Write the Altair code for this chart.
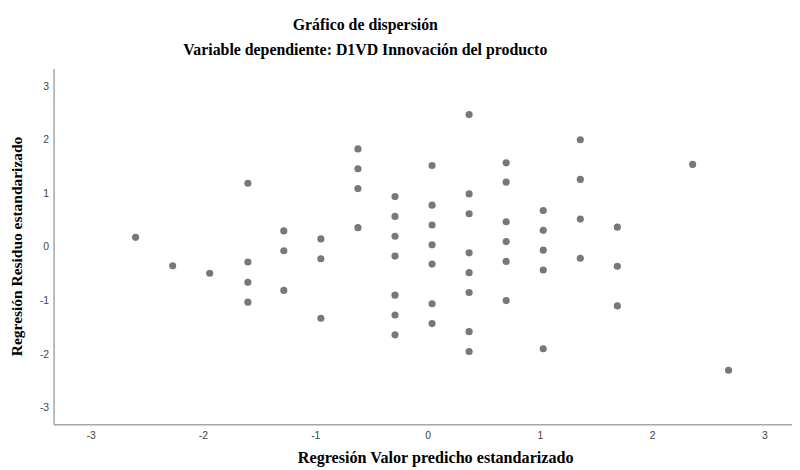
import altair as alt
import pandas as pd

# Regresión Valor predicho estandarizado
predicho = [
    -2.60,
    -2.27,
    -1.94,
    -1.60, -1.60, -1.60, -1.60,
    -1.28, -1.28, -1.28,
    -0.95, -0.95, -0.95,
    -0.62, -0.62, -0.62, -0.62,
    -0.29, -0.29, -0.29, -0.29, -0.29, -0.29, -0.29,
    0.04, 0.04, 0.04, 0.04, 0.04, 0.04, 0.04,
    0.37, 0.37, 0.37, 0.37, 0.37, 0.37, 0.37, 0.37,
    0.70, 0.70, 0.70, 0.70, 0.70, 0.70,
    1.03, 1.03, 1.03, 1.03, 1.03,
    1.36, 1.36, 1.36, 1.36,
    1.69, 1.69, 1.69,
    2.36,
    2.68,
]
# Regresión Residuo estandarizado
residuo = [
    0.18,
    -0.35,
    -0.49,
    1.19, -0.28, -0.66, -1.03,
    0.30, -0.07, -0.81,
    0.15, -0.22, -1.33,
    1.83, 1.46, 1.09, 0.36,
    0.94, 0.57, 0.20, -0.17, -0.90, -1.27, -1.64,
    1.52, 0.78, 0.41, 0.04, -0.32, -1.06, -1.43,
    2.47, 0.99, 0.62, -0.11, -0.48, -0.85, -1.58, -1.95,
    1.57, 1.21, 0.47, 0.10, -0.27, -1.00,
    0.68, 0.31, -0.06, -0.43, -1.90,
    2.00, 1.26, 0.52, -0.21,
    0.37, -0.36, -1.10,
    1.54,
    -2.30,
]
ticks = [-3, -2, -1, 0, 1, 2, 3]

df = pd.DataFrame({"pred": predicho, "res": residuo})

label_expr = "datum.value < 0 ? '-' + abs(datum.value) : '' + datum.value"

chart = alt.Chart(df).mark_circle(size=52, color="#787878", opacity=1).encode(
    x=alt.X(
        "pred:Q",
        scale=alt.Scale(domain=[-3.33, 3.245], nice=False, zero=False),
        axis=alt.Axis(
            values=ticks,
            title="Regresión Valor predicho estandarizado",
            labelExpr=label_expr,
            labelPadding=6,
            titleFontSize=16.3,
            titleX=385,
            titleY=39,
            titleAlign="center",
            titleBaseline="alphabetic",
        ),
    ),
    y=alt.Y(
        "res:Q",
        scale=alt.Scale(domain=[-3.31, 3.33], nice=False, zero=False),
        axis=alt.Axis(
            values=ticks,
            title="Regresión Residuo estandarizado",
            labelExpr=label_expr,
            labelPadding=5,
            titleFontSize=15.6,
            titleX=-32,
            titleY=179,
            titleAlign="center",
            titleBaseline="alphabetic",
            titleAngle=270,
        ),
    ),
).properties(
    width=745,
    height=359,
    padding={"left": 46, "top": 59, "right": 0, "bottom": 44},
    autosize=alt.AutoSizeParams(type="none"),
    title=alt.TitleParams(
        text="Gráfico de dispersión",
        subtitle="Variable dependiente: D1VD Innovación del producto",
        font="Liberation Serif",
        fontSize=16,
        fontWeight="bold",
        color="black",
        subtitleFont="Liberation Serif",
        subtitleFontSize=16,
        subtitleFontWeight="bold",
        subtitleColor="black",
        subtitlePadding=9,
        anchor="middle",
        dx=-58,
        offset=11,
    ),
).configure_view(
    strokeWidth=0
).configure_axis(
    grid=False,
    ticks=False,
    tickSize=0,
    domainColor="#a6a6a6",
    domainWidth=1.5,
    labelFont="Liberation Sans",
    labelFontSize=10.5,
    labelColor="#444444",
    titleFont="Liberation Serif",
    titleFontWeight="bold",
    titleColor="black",
)

chart.save("out.html", embed_options={"renderer": "svg", "actions": False})
